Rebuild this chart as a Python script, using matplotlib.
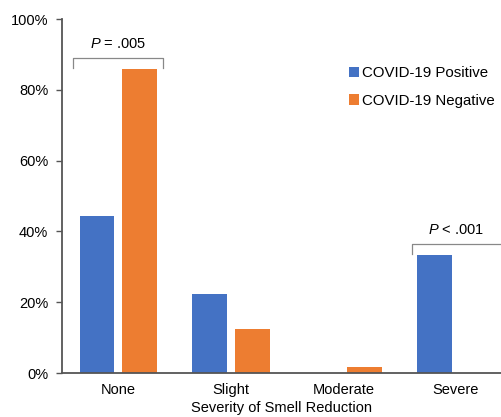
import matplotlib.pyplot as plt
import numpy as np

plt.rcParams['font.family'] = ['Liberation Sans', 'DejaVu Sans']
plt.rcParams['mathtext.fontset'] = 'custom'
plt.rcParams['mathtext.it'] = 'Liberation Sans:italic'
plt.rcParams['mathtext.rm'] = 'Liberation Sans'

categories = ['None', 'Slight', 'Moderate', 'Severe']
positive = [44.4, 22.2, 0.0, 33.3]
negative = [85.9, 12.4, 1.6, 0.0]
yticks = [0, 20, 40, 60, 80, 100]

blue = '#4472C4'
orange = '#ED7D31'

fig = plt.figure(figsize=(5.01, 4.17), dpi=100)
ax = fig.add_axes([0.124, 0.1055, 0.876, 0.8485])

x = np.arange(len(categories))
w = 0.31
off = 0.19
ax.bar(x - off, positive, w, color=blue, label='COVID-19 Positive')
ax.bar(x + off, negative, w, color=orange, label='COVID-19 Negative')

ax.set_xlim(-0.5, 3.4)
ax.set_ylim(0, 100)
ax.set_yticks(yticks)
ax.set_yticklabels(['%d%%' % t for t in yticks], fontsize=10.5)
ax.set_xticks(x)
ax.set_xticklabels(categories, fontsize=10.5)
ax.tick_params(axis='x', length=0, pad=7)
ax.tick_params(axis='y', length=4, width=1, color='#555555', pad=6)
ax.set_xlabel('Severity of Smell Reduction', fontsize=10.5, labelpad=3)

for s in ['top', 'right']:
    ax.spines[s].set_visible(False)
for s in ['left', 'bottom']:
    ax.spines[s].set_color('#555555')
    ax.spines[s].set_linewidth(1.3)

# significance brackets
bc = '#888888'
ax.plot([-0.4, -0.4, 0.4, 0.4], [86.2, 89, 89, 86.2], color=bc, lw=0.9, clip_on=False)
ax.text(0, 91, '$P$ = .005', ha='center', va='bottom', fontsize=10.5)
ax.plot([2.61, 2.61, 3.5, 3.5], [33.6, 36.4, 36.4, 33.6], color=bc, lw=0.9, clip_on=False)
ax.text(3.0, 38.3, '$P$ < .001', ha='center', va='bottom', fontsize=10.5)

ax.legend(loc='upper left', bbox_to_anchor=(0.622, 0.905), frameon=False,
          fontsize=10.8, handlelength=0.7, handleheight=0.7, handletextpad=0.2,
          labelspacing=0.9)

fig.savefig('out.png', dpi=100)
